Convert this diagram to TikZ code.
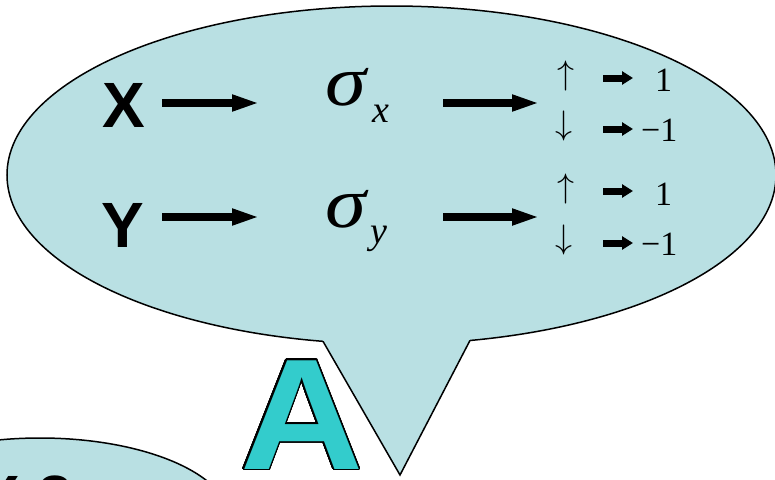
\documentclass[tikz,border=0pt]{standalone}
\usepackage{fontspec}
\setmainfont{Liberation Serif}
\newfontfamily\arialfont{Liberation Sans}
\usepackage[copies]{contour}
\contournumber{48}
\contourlength{1.4pt}
\usetikzlibrary{arrows.meta}
\definecolor{bubble}{RGB}{185,224,227}
\definecolor{letterA}{RGB}{51,204,204}
\begin{document}
\begin{tikzpicture}[x=1pt,y=-1pt,
  bigtext/.style={font=\arialfont\bfseries\fontsize{64}{64}\selectfont, inner sep=0pt, anchor=base},
  sig/.style={font=\itshape\fontsize{72}{72}\selectfont, inner sep=0pt, anchor=base west, xscale=1.15},
  subs/.style={font=\itshape\fontsize{38}{38}\selectfont, inner sep=0pt, anchor=base west},
  num/.style={font=\fontsize{34}{34}\selectfont, inner sep=0pt, anchor=base west},
  updown/.style={font=\fontsize{10}{10}\selectfont, inner sep=0pt, anchor=center, scale=3.4},
  bigarrow/.style={line width=8pt, -{Triangle[length=28pt,width=15pt]}},
  smallarrow/.style={line width=7pt, -{Triangle[length=11pt,width=13pt]}},
  outline/.style={draw=black, line width=1.5pt}]
\useasboundingbox (0,0) rectangle (775,479);

% lower left bubble (partly visible)
\filldraw[fill=bubble, outline] (40,520) ellipse [x radius=190, y radius=82];
\node[font=\arialfont\bfseries\fontsize{64}{64}\selectfont, inner sep=0pt, anchor=base west] (xtwo) at (-23,520) {X 2};

% main speech bubble
\filldraw[fill=bubble, outline] (391.5,175) ellipse [x radius=384.5, y radius=169];
\coordinate (tailL) at (323,341.3);
\coordinate (tailR) at (470,340.4);
\coordinate (tailTip) at (400,475);
\fill[bubble] (tailL) -- (tailTip) -- (tailR) -- (470,320) -- (323,320) -- cycle;
\draw[outline, line join=miter] (tailL) -- (tailTip) -- (tailR);

% big letter A
\node[font=\arialfont\bfseries\fontsize{158}{158}\selectfont, text=letterA, inner sep=0pt, anchor=base west, xscale=1.08] (bigA) at (240,469)
  {\contour{black}{A}};

% row X
\node[bigtext] (X) at (124,127) {X};
\node[sig] (sx) at (325,105) {σ};
\node[subs] (sxsub) at (372,122) {x};
\coordinate (aXs) at (162,103);
\coordinate (aXe) at (260,103);
\draw[bigarrow] (aXs) -- (aXe);
\coordinate (aSXs) at (443,103);
\coordinate (aSXe) at (540,103);
\draw[bigarrow] (aSXs) -- (aSXe);

% row Y
\node[bigtext] (Y) at (123,247) {Y};
\node[sig] (sy) at (325,227) {σ};
\node[subs] (sysub) at (370,243) {y};
\coordinate (aYs) at (162,217);
\coordinate (aYe) at (260,217);
\draw[bigarrow] (aYs) -- (aYe);
\coordinate (aSYs) at (443,217);
\coordinate (aSYe) at (540,217);
\draw[bigarrow] (aSYs) -- (aSYe);

% spin outcomes
\node[updown] (up1) at (566,76) {$\uparrow$};
\node[updown] (dn1) at (564,126) {$\downarrow$};
\node[updown] (up2) at (566,189) {$\uparrow$};
\node[updown] (dn2) at (564,240) {$\downarrow$};

\coordinate (s1s) at (603,78);  \coordinate (s1e) at (633,78);
\coordinate (s2s) at (603,129); \coordinate (s2e) at (633,129);
\coordinate (s3s) at (603,191); \coordinate (s3e) at (633,191);
\coordinate (s4s) at (603,243); \coordinate (s4e) at (633,243);
\draw[smallarrow] (s1s) -- (s1e);
\draw[smallarrow] (s2s) -- (s2e);
\draw[smallarrow] (s3s) -- (s3e);
\draw[smallarrow] (s4s) -- (s4e);

\node[num] (v1) at (655,91) {1};
\node[num] (v2) at (641,141) {−1};
\node[num] (v3) at (655,205) {1};
\node[num] (v4) at (641,255) {−1};
\end{tikzpicture}
\end{document}
